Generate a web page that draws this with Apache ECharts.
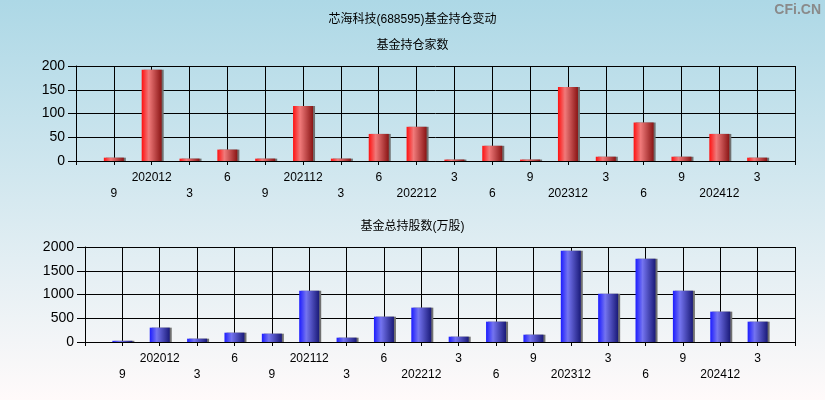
<!DOCTYPE html>
<html>
<head>
<meta charset="utf-8">
<script src="https://cdn.jsdelivr.net/npm/echarts@6/dist/echarts.min.js"></script>
<style>
html,body{margin:0;padding:0;}
#c{width:825px;height:400px;background:linear-gradient(to bottom,#add8e6 0%,#d6e9f0 50%,#fffafa 100%);}
</style>
</head>
<body>
<div id="c"></div>
<script>
var categories = ['9','202012','3','6','9','202112','3','6','202212','3','6','9','202312','3','6','9','202412','3'];
var fundCount = [7,192,5,24,5,116,5,57,72,3,32,3,156,9,81,9,57,7];
var fundShares = [25,302,70,196,175,1081,91,533,723,112,428,154,1923,1018,1754,1081,639,428];
var topTicks = [0,50,100,150,200];
var bottomTicks = [0,500,1000,1500,2000];

var cats = [''].concat(categories).concat(['']);
function pad(arr){ return [null].concat(arr).concat([null]); }

var FONT = '"Liberation Sans","Noto Sans CJK SC",Arial,sans-serif';
var chart = echarts.init(document.getElementById('c'), null, {renderer:'canvas'});

function xAxis(gi){
  return {
    type:'category', gridIndex:gi, data:cats, boundaryGap:false,
    axisLine:{show:true,lineStyle:{color:'#000',width:1}},
    axisTick:{show:true,interval:0,length:4,lineStyle:{color:'#000'}},
    splitLine:{show:true,interval:0,lineStyle:{color:'#000',width:1}},
    axisLabel:{interval:0,margin:9,color:'#000',fontSize:12,fontFamily:FONT,lineHeight:16,
      formatter:function(v,i){ return (i%2===1) ? '\n'+v : v; }}
  };
}
function yAxis(gi,ticks){
  return {
    type:'value', gridIndex:gi, min:ticks[0], max:ticks[ticks.length-1], interval:ticks[1]-ticks[0],
    axisLine:{show:true,lineStyle:{color:'#000'}},
    axisTick:{show:true,length:8,lineStyle:{color:'#000'}},
    splitLine:{show:true,lineStyle:{color:'#000',width:1}},
    axisLabel:{color:'#000',fontSize:14,fontFamily:FONT,margin:11,formatter:function(v){return String(v);}}
  };
}
function grad(c1,c2,c3){
  return new echarts.graphic.LinearGradient(0,0,1,0,[
    {offset:0,color:c1},{offset:0.35,color:c2},{offset:1,color:c3}
  ]);
}
chart.setOption({
  animation:false,
  backgroundColor:'transparent',
  title:[
    {text:'芯海科技(688595)基金持仓变动',left:'center',top:9,textStyle:{fontSize:12,fontWeight:'normal',color:'#000',fontFamily:FONT}},
    {text:'基金持仓家数',left:'center',top:35,textStyle:{fontSize:12,fontWeight:'normal',color:'#000',fontFamily:FONT}},
    {text:'基金总持股数(万股)',left:'center',top:216,textStyle:{fontSize:12,fontWeight:'normal',color:'#000',fontFamily:FONT}}
  ],
  graphic:[{type:'text',right:4,top:3,style:{text:'CFi.CN',fill:'#8a8a8a',font:'bold 14px "Liberation Sans",Arial,sans-serif'}}],
  grid:[
    {left:76,right:30,top:66,height:95},
    {left:85,right:30,top:247,height:95}
  ],
  xAxis:[xAxis(0),xAxis(1)],
  yAxis:[yAxis(0,topTicks),yAxis(1,bottomTicks)],
  series:[
    {type:'bar',xAxisIndex:0,yAxisIndex:0,data:pad(fundCount),barWidth:20,
      itemStyle:{color:grad('#ff1010','#f07a7a','#8a1515'),shadowColor:'#707070',shadowOffsetX:2,shadowBlur:0}},
    {type:'bar',xAxisIndex:1,yAxisIndex:1,data:pad(fundShares),barWidth:20,
      itemStyle:{color:grad('#1c1cff','#7474f0','#1a1a78'),shadowColor:'#707070',shadowOffsetX:2,shadowBlur:0}}
  ]
});
</script>
</body>
</html>
